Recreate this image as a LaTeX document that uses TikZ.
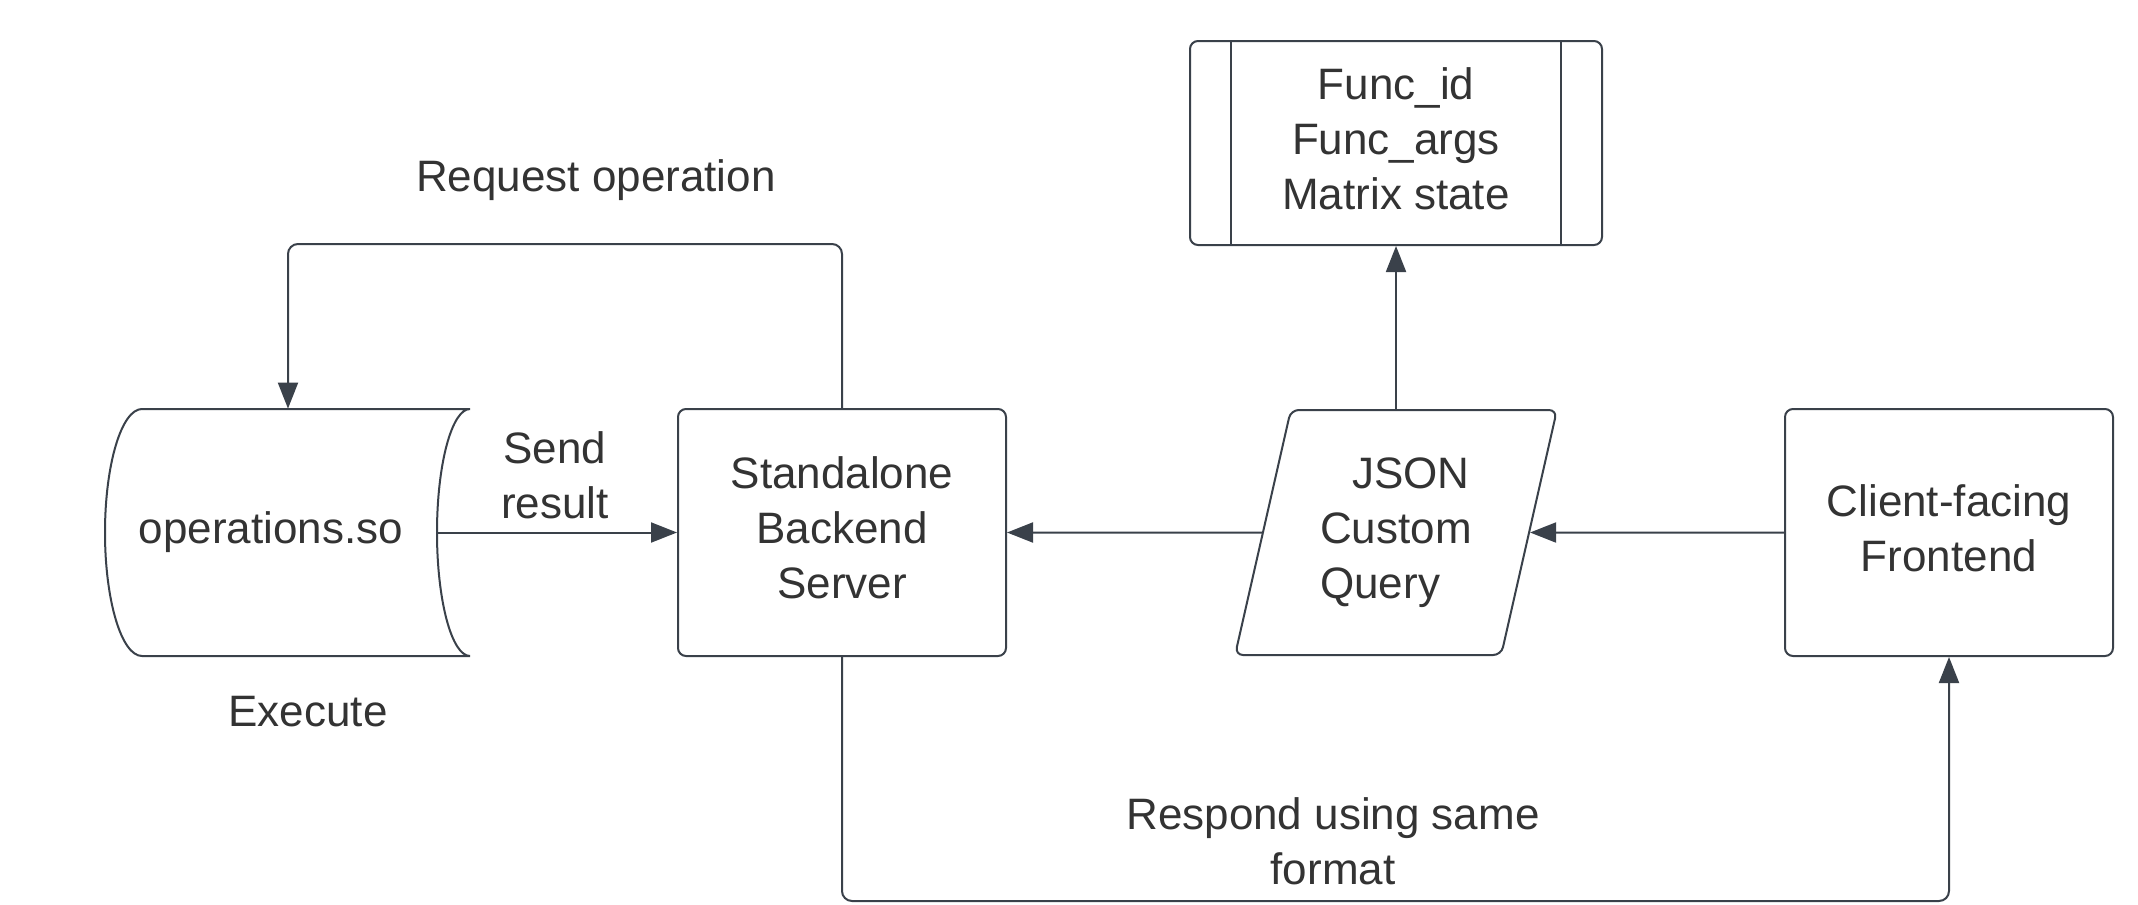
\documentclass[tikz,border=0pt]{standalone}
\usepackage{fontspec}
\setmainfont{Liberation Sans}
\usetikzlibrary{arrows.meta,shapes.geometric,calc}
\definecolor{ln}{HTML}{3A414A}
\definecolor{tx}{HTML}{333333}
\newcommand{\upbox}[2]{\raisebox{#1}{\begin{tabular}{@{}c@{}}#2\end{tabular}}}
\begin{document}
\begin{tikzpicture}[x=0.5pt,y=-0.5pt,
  every node/.style={font=\fontsize{22}{27.5}\selectfont, text=tx},
  box/.style={draw=ln, line width=1pt, rounded corners=4pt, minimum width=164pt, minimum height=123.5pt, align=center, inner sep=0pt},
  arr/.style={draw=ln, line width=1pt, -{Triangle[length=13pt,width=10pt]}, rounded corners=5pt},
  shp/.style={draw=ln, line width=1pt}]
\useasboundingbox[fill=white] (0,0) rectangle (2138,905);

% nodes
\node[minimum width=166pt, minimum height=123.5pt, inner sep=0pt] (ops) at (271,532.5) {operations.so};
\node[box] (backend) at (842,532.5) {\upbox{1pt}{Standalone\\Backend\\Server}};
\node[shp, shape=trapezium, trapezium left angle=75, trapezium right angle=105, trapezium stretches=true,
      minimum width=161pt, minimum height=122.5pt, rounded corners=4pt, inner sep=0pt, align=left] (json) at (1396,532.5)
      {\hspace*{16pt}JSON\\Custom\\Query};
\node[box] (client) at (1949,532.5) {\upbox{2.7pt}{Client-facing\\Frontend}};
\node[box, minimum width=206pt, minimum height=102pt] (func) at (1396,143) {\upbox{2.7pt}{Func\_id\\Func\_args\\Matrix state}};
\draw[shp] ([xshift=21pt]func.north west) -- ([xshift=21pt]func.south west);
\draw[shp] ([xshift=-21pt]func.north east) -- ([xshift=-21pt]func.south east);

% stored data shape
\draw[shp] (142,409) -- (470,409)
  .. controls (451.8,409) and (437,464.3) .. (437,532.5)
  .. controls (437,600.7) and (451.8,656) .. (470,656)
  -- (142,656)
  .. controls (121.6,656) and (105,600.7) .. (105,532.5)
  .. controls (105,464.3) and (121.6,409) .. (142,409) -- cycle;

% labels
\node (lreq) at (596,180) {Request operation};
\node[align=center] (lsend) at (555,475) {Send\\result};
\node (lexec) at (308,712) {Execute};
\node[align=center] (lresp) at (1333,841) {Respond using same\\format};

% connectors
\draw[arr] (ops.east) -- (backend.west);
\draw[arr] (json) -- (backend);
\draw[arr] (client) -- (json);
\draw[arr] (json.north) -- (json.north |- func.south);
\draw[arr] (backend.north) -- ++(0,-164) -| ([xshift=8.5pt]ops.north);
\draw[arr] (backend.south) -- ++(0,244) -| (client.south);
\end{tikzpicture}
\end{document}
